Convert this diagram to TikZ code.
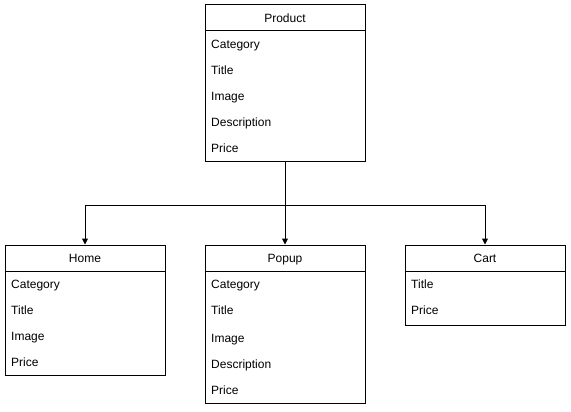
\documentclass[tikz,border=0pt]{standalone}
\usepackage{fontspec}
\setmainfont{Liberation Sans}
\usetikzlibrary{arrows.meta}
\begin{document}
\begin{tikzpicture}[x=1pt,y=-1pt,
  box/.style={draw,line width=1pt,minimum width=160pt,inner sep=0pt,fill=white},
  title/.style={font=\fontsize{12}{14}\selectfont,anchor=center,inner sep=0pt,text height=10pt,text depth=1pt},
  item/.style={font=\fontsize{12}{14}\selectfont,anchor=west,inner sep=0pt,text height=10pt,text depth=1pt},
  conn/.style={line width=1pt},
  arr/.style={line width=1pt,-{Triangle[length=6pt,width=6pt]}}]
\useasboundingbox (0,0) rectangle (571,412);
% Product
\node[box,minimum height=156pt] (product) at (285,83) {};
\draw[line width=1pt] (205,31) -- (365,31);
\node[title] (productt) at (285,18) {Product};
\node[item] (p1) at (211,44) {Category};
\node[item] (p2) at (211,70) {Title};
\node[item] (p3) at (211,96) {Image};
\node[item] (p4) at (211,122) {Description};
\node[item] (p5) at (211,148) {Price};
% Home
\node[box,minimum height=130pt] (home) at (85,310) {};
\draw[line width=1pt] (5,271) -- (165,271);
\node[title] (homet) at (85,258) {Home};
\node[item] (h1) at (11,284) {Category};
\node[item] (h2) at (11,310) {Title};
\node[item] (h3) at (11,336) {Image};
\node[item] (h4) at (11,362) {Price};
% Popup
\node[box,minimum height=158pt] (popup) at (285,324) {};
\draw[line width=1pt] (205,271) -- (365,271);
\node[title] (popupt) at (285,258) {Popup};
\node[item] (u1) at (211,284) {Category};
\node[item] (u2) at (211,310) {Title};
\node[item] (u3) at (211,338) {Image};
\node[item] (u4) at (211,364) {Description};
\node[item] (u5) at (211,390) {Price};
% Cart
\node[box,minimum height=80pt] (cart) at (485,285) {};
\draw[line width=1pt] (405,271) -- (565,271);
\node[title] (cartt) at (485,258) {Cart};
\node[item] (c1) at (411,284) {Title};
\node[item] (c2) at (411,310) {Price};
% connectors
\coordinate (split) at (285,205);
\draw[conn] (product.south) -- (split);
\draw[arr] (split) -| (home.north);
\draw[arr] (split) -- (popup.north);
\draw[arr] (split) -| (cart.north);
\end{tikzpicture}
\end{document}
